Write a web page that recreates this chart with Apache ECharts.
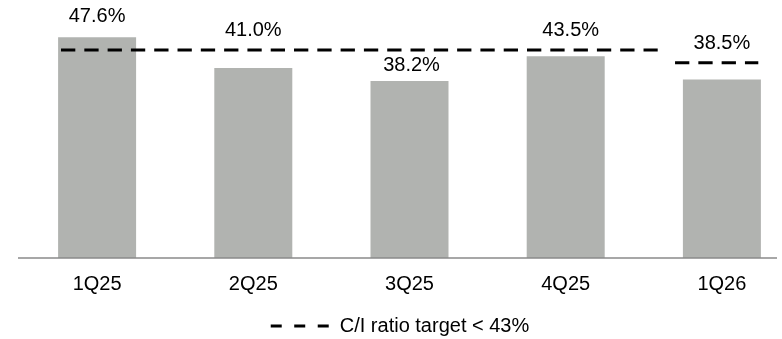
<!DOCTYPE html>
<html>
<head>
<meta charset="utf-8">
<script src="https://cdn.jsdelivr.net/npm/echarts@6/dist/echarts.min.js"></script>
<style>
html,body{margin:0;padding:0;background:#fff;overflow:hidden;width:782px;height:339px;}
#c{width:800px;height:339px;}
</style>
</head>
<body>
<div id="c"></div>
<script>
// ---- data ----
const categories = ['1Q25', '2Q25', '3Q25', '4Q25', '1Q26'];
const ciRatio = [47.6, 41.0, 38.2, 43.5, 38.5];
const targetName = 'C/I ratio target < 43%';
// target line segments: [xStart, xEnd] on category index scale, and their level
const targetSpans = [[-0.231, 3.589], [3.700, 4.233]];
const targetLevels = [44.86, 42.1];

// ---- layout helpers (label nudges, not data) ----
const labelOffsets = [[0, -6], [0, -22], [2, 0], [5, -11], [0, -21]];

const FONT = 'Arial, "Liberation Sans", sans-serif';

const chart = echarts.init(document.getElementById('c'), null, {renderer: 'canvas'});

const barData = ciRatio.map((v, i) => ({
  value: v,
  label: {offset: labelOffsets[i]}
}));

const lineSeries = targetSpans.map((span, k) => ({
  name: targetName,
  type: 'line',
  xAxisIndex: 1,
  symbol: 'none',
  silent: true,
  z: 5,
  color: '#000',
  lineStyle: {color: '#000', width: 3, type: [14.3, 9], cap: 'butt'},
  data: [[span[0], targetLevels[k]], [span[1], targetLevels[k]]]
}));

chart.setOption({
  animation: false,
  backgroundColor: '#fff',
  grid: {left: 19, width: 781, top: 26.2, height: 231.8, containLabel: false},
  xAxis: [
    {
      type: 'category',
      data: categories,
      boundaryGap: true,
      axisLine: {show: false},
      axisTick: {show: false},
      axisLabel: {color: '#000', fontFamily: FONT, fontSize: 20, margin: 16}
    },
    {
      type: 'value',
      min: -0.5,
      max: 4.5,
      show: false
    }
  ],
  yAxis: {
    type: 'value',
    min: 0,
    max: 50,
    show: false,
    splitLine: {show: false}
  },
  legend: {
    data: [{name: targetName,
      icon: 'path://M0,0H11V3H0Z M23.5,0H34.5V3H23.5Z M47,0H58V3H47Z'}],
    top: 311,
    left: 'center',
    itemWidth: 58,
    itemHeight: 3,
    itemStyle: {color: '#000'},
    textStyle: {color: '#000', fontFamily: FONT, fontSize: 20, padding: [0, 0, 0, 6]}
  },
  graphic: [{
    type: 'line',
    shape: {x1: 18, y1: 258, x2: 777, y2: 258},
    style: {stroke: '#8a8a8a', lineWidth: 1.5},
    z: 10
  }],
  series: [
    {
      name: 'C/I ratio',
      type: 'bar',
      barWidth: 78,
      itemStyle: {color: '#b1b3b0'},
      label: {
        show: true,
        position: 'top',
        distance: 5,
        color: '#000',
        fontFamily: FONT,
        fontSize: 20,
        formatter: p => p.value.toFixed(1) + '%'
      },
      data: barData
    }
  ].concat(lineSeries)
});
</script>
</body>
</html>
